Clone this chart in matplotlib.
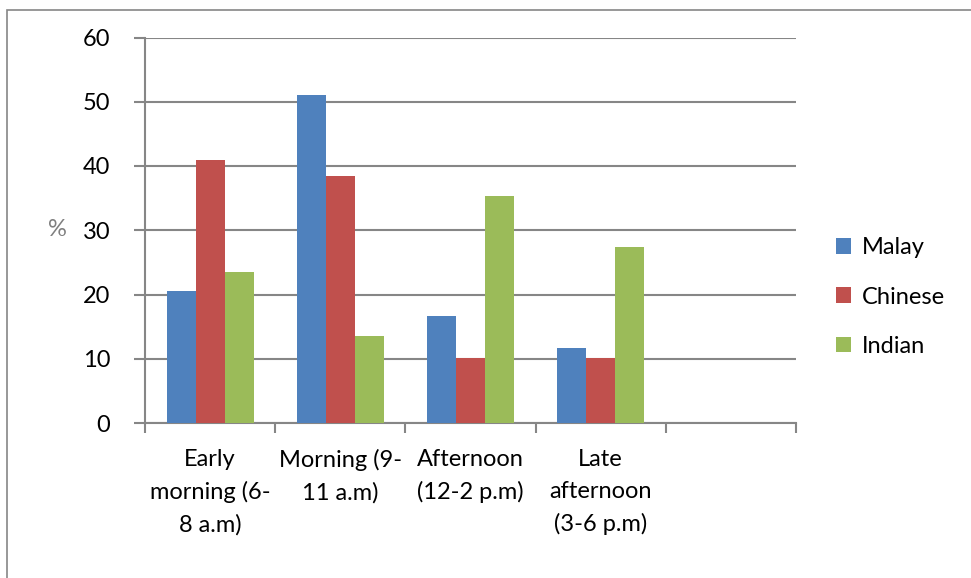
import matplotlib.pyplot as plt
from matplotlib.patches import Rectangle
import numpy as np

# Data
categories = ['Early\nmorning (6-\n8 a.m)', 'Morning (9-\n11 a.m)',
              'Afternoon\n(12-2 p.m)', 'Late\nafternoon\n(3-6 p.m)', '']
malay = [20.6, 51.0, 16.6, 11.7]
chinese = [40.9, 38.4, 10.1, 10.1]
indian = [23.5, 13.6, 35.3, 27.4]
series = [('Malay', malay, '#4F81BD'),
          ('Chinese', chinese, '#C0504D'),
          ('Indian', indian, '#9BBB59')]
yticks = [0, 10, 20, 30, 40, 50, 60]

plt.rcParams['font.family'] = ['Lato', 'DejaVu Sans']
grey = '#868686'
fs = 17

fig = plt.figure(figsize=(9.71, 5.78), dpi=100)
ax = fig.add_axes([145 / 971, 1 - 423 / 578, 651 / 971, 385.5 / 578])

# outer chart frame
fig.patches.append(Rectangle((6.5 / 971, -0.1), 1.2, 1 - 9.5 / 578 + 0.1,
                             transform=fig.transFigure, fill=False,
                             edgecolor=grey, linewidth=1.2))

width = 0.223
x = np.arange(len(malay)) + 0.5
for i, (name, vals, color) in enumerate(series):
    ax.bar(x + (i - 1) * width, vals, width, color=color, label=name,
           zorder=3)

ax.set_xlim(0, len(categories))
ax.set_ylim(0, 60)
ax.set_yticks(yticks)
ax.set_yticklabels([str(t) for t in yticks], fontsize=fs)
ax.tick_params(axis='y', length=8, width=1.5, color=grey, pad=17)
ax.yaxis.grid(True, color=grey, linewidth=1.5, zorder=0)

ax.set_xticks(np.arange(len(categories)) + 0.5)
ax.set_xticklabels(categories, fontsize=fs, linespacing=1.6)
ax.set_xticks(np.arange(len(categories) + 1), minor=True)
ax.tick_params(axis='x', which='major', length=0, pad=19)
ax.tick_params(axis='x', which='minor', length=7, width=1.5, color=grey)

for side in ['top', 'right']:
    ax.spines[side].set_visible(False)
for side in ['left', 'bottom']:
    ax.spines[side].set_color(grey)
    ax.spines[side].set_linewidth(1.5)

fig.text(57 / 971, 1 - 229 / 578, '%', fontsize=17, color='#7f7f7f',
         ha='center', va='center')

fig.legend(loc='center left', bbox_to_anchor=(836 / 971, 1 - 297 / 578),
           frameon=False, fontsize=fs, handlelength=0.65, handleheight=0.65,
           handletextpad=0.45, labelspacing=1.2, borderaxespad=0,
           borderpad=0)

fig.savefig('out.png', dpi=100)
